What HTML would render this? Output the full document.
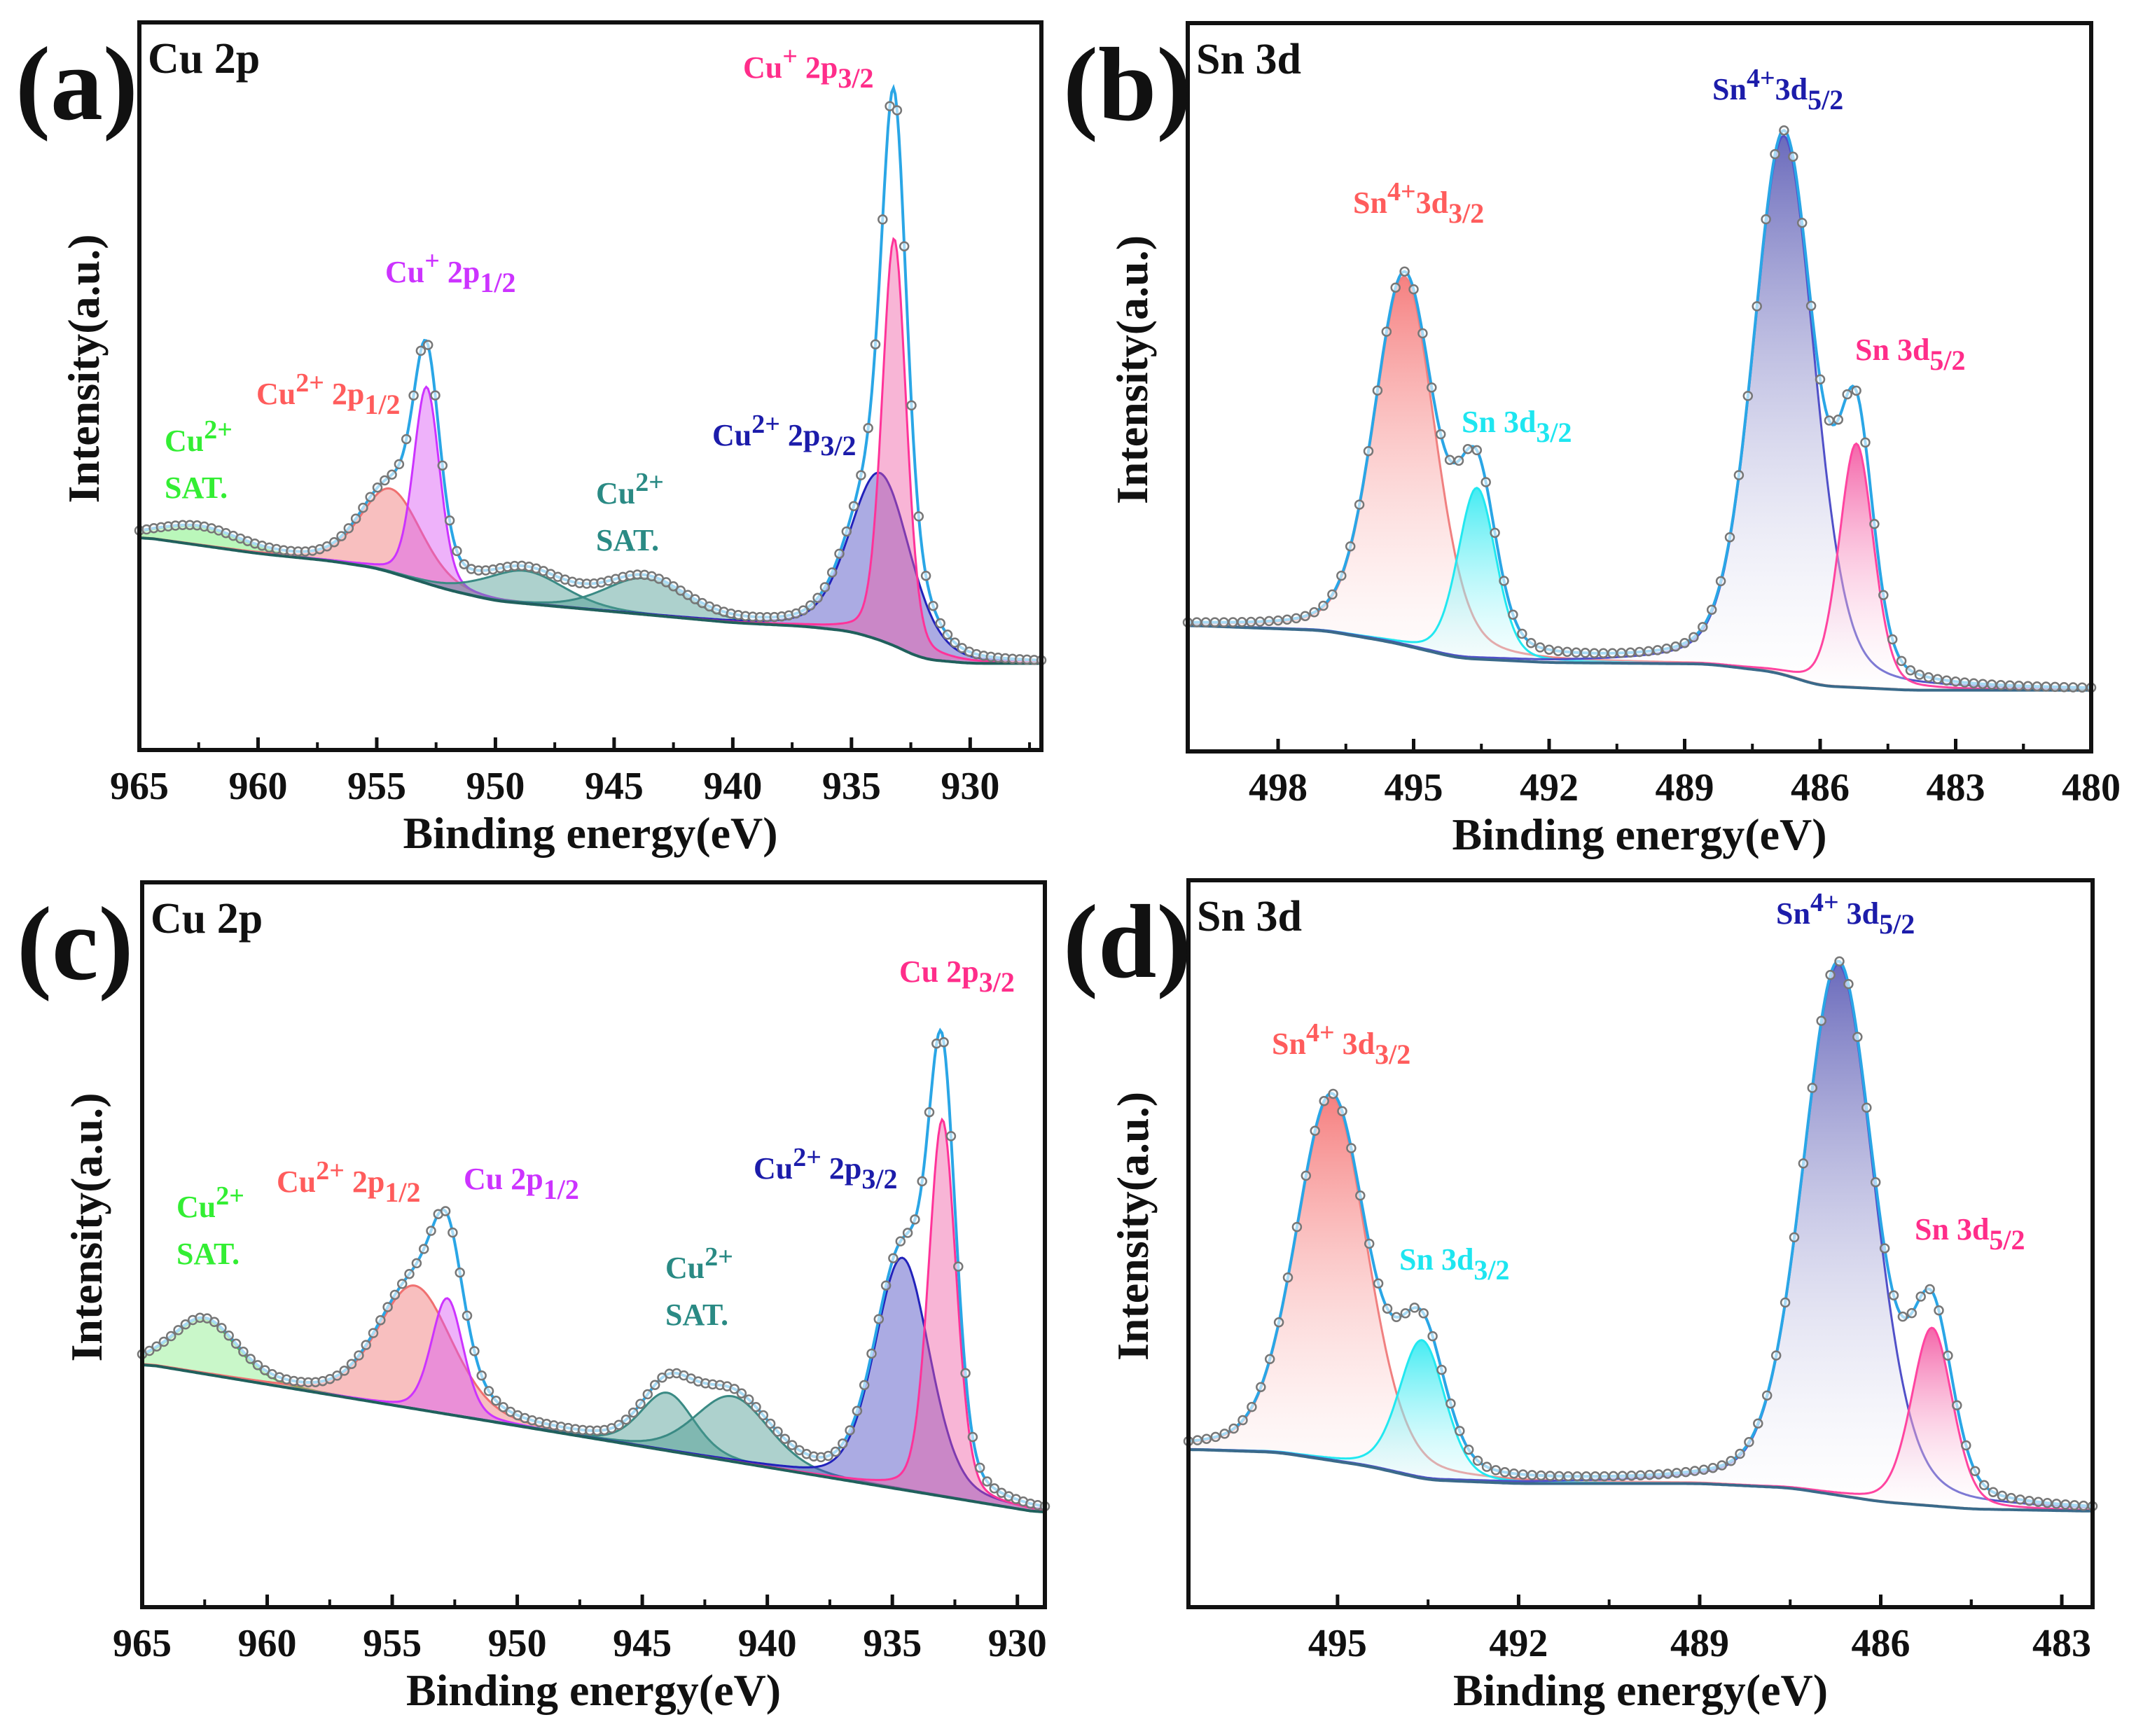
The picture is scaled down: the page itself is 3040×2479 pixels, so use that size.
<!DOCTYPE html>
<html><head><meta charset="utf-8">
<style>
html,body{margin:0;padding:0;background:#fff;}
svg{display:block;}
text{font-family:"Liberation Serif",serif;}
</style></head>
<body>
<svg id="fig" xmlns="http://www.w3.org/2000/svg" width="3040" height="2479" viewBox="0 0 3040 2479">
<defs>
<linearGradient id="gRed" x1="0" y1="0" x2="0" y2="1"><stop offset="0" stop-color="#f46a6a" stop-opacity="0.85"/><stop offset="1" stop-color="#fff" stop-opacity="0.2"/></linearGradient>
<linearGradient id="gCyan" x1="0" y1="0" x2="0" y2="1"><stop offset="0" stop-color="#22e8f0" stop-opacity="0.85"/><stop offset="1" stop-color="#fff" stop-opacity="0.2"/></linearGradient>
<linearGradient id="gBlue" x1="0" y1="0" x2="0" y2="1"><stop offset="0" stop-color="#5a5ab4" stop-opacity="0.9"/><stop offset="1" stop-color="#fff" stop-opacity="0.2"/></linearGradient>
<linearGradient id="gPink" x1="0" y1="0" x2="0" y2="1"><stop offset="0" stop-color="#f24a9a" stop-opacity="0.85"/><stop offset="1" stop-color="#fff" stop-opacity="0.2"/></linearGradient>
</defs>
</svg>
<script>
// ---------- Panel (a) Cu 2p ----------
const aBgEnergy = [965, 960, 957, 955, 952, 950, 945, 940, 937, 935, 933.5, 932, 930, 927];
const aBgInt    = [29.3, 27, 26, 25, 22, 20.5, 19, 17.5, 17, 16.3, 14.8, 12.5, 11.9, 11.9];
const aPeakNames   = ['cu2-sat-1', 'cu2-2p12', 'cu1-2p12', 'cu2-sat-2', 'cu2-sat-3', 'cu2-2p32', 'cu1-2p32'];
const aPeakCenter  = [962.5, 954.4, 952.9, 948.8, 943.7, 933.8, 933.2];
const aPeakHeight  = [2.5, 11.5, 27, 4.5, 5, 23, 56];
const aPeakFwhm    = [4, 3, 1.3, 4, 4, 3, 1.2];
// ---------- Panel (b) Sn 3d ----------
const bBgEnergy = [500, 497, 495.5, 494, 492, 488.5, 487, 486, 484, 480];
const bBgInt    = [17.3, 16.6, 15, 12.8, 12.2, 12, 10.9, 9, 8.4, 8.4];
const bPeakNames  = ['sn4-3d32', 'sn-3d32', 'sn4-3d52', 'sn-3d52'];
const bPeakCenter = [495.2, 493.6, 486.8, 485.2];
const bPeakHeight = [50.6, 23.5, 74, 33.5];
const bPeakFwhm   = [1.6, 1.0, 1.6, 0.9];
// ---------- Panel (c) Cu 2p ----------
const cBgEnergy = [965, 929];
const cBgInt    = [33.6, 13];
const cPeakNames  = ['cu2-sat-1', 'cu2-2p12', 'cu-2p12', 'cu2-sat-2', 'cu2-sat-3', 'cu2-2p32', 'cu-2p32'];
const cPeakCenter = [962.5, 954.1, 952.8, 944.0, 941.4, 934.6, 933.0];
const cPeakHeight = [7.5, 17, 16, 8, 9, 32, 52];
const cPeakFwhm   = [3, 3.5, 1.5, 2.5, 3.5, 2.6, 1.3];
// ---------- Panel (d) Sn 3d ----------
const dBgEnergy = [497.47, 496, 494.5, 493.5, 492, 489, 487.5, 486, 484.5, 482.49];
const dBgInt    = [21.7, 21.3, 19.4, 17.5, 17, 17, 16.4, 14.5, 13.5, 13.2];
const dPeakNames  = ['sn4-3d32', 'sn-3d32', 'sn4-3d52', 'sn-3d52'];
const dPeakCenter = [495.1, 493.6, 486.7, 485.15];
const dPeakHeight = [50, 19, 73, 24.5];
const dPeakFwhm   = [1.4, 0.9, 1.4, 0.8];
// ticks
const aTicks = [965, 960, 955, 950, 945, 940, 935, 930];
const bTicks = [498, 495, 492, 489, 486, 483, 480];
const cTicks = [965, 960, 955, 950, 945, 940, 935, 930];
const dTicks = [495, 492, 489, 486, 483];

const NS = 'http://www.w3.org/2000/svg';
const svg = document.getElementById('fig');
function mk(tag, attrs, parent){const e=document.createElementNS(NS,tag);for(const k in attrs)e.setAttribute(k,attrs[k]);(parent||svg).appendChild(e);return e;}
function interp(xs, ys, x){
  for(let i=0;i<xs.length-1;i++){
    const a=xs[i],b=xs[i+1];
    if((x<=a&&x>=b)||(x>=a&&x<=b)){const t=(x-a)/(b-a);return ys[i]+(ys[i+1]-ys[i])*t;}
  }
  return Math.abs(x-xs[0])<Math.abs(x-xs[xs.length-1])?ys[0]:ys[ys.length-1];
}
function pv(x,c,h,w){const d=(x-c)/w;return h*(0.75*Math.exp(-4*Math.LN2*d*d)+0.25/(1+4*d*d));}

function panel(cfg){
  const g=mk('g',{});
  
  
  const L=cfg.L,R=cfg.R,T=cfg.T,B=cfg.B;
  const sx=e=>L+(cfg.e0-e)/(cfg.e0-cfg.e1)*(R-L);
  const sy=v=>B-v/100*(B-T);
  const N=500, E=[];
  for(let i=0;i<=N;i++)E.push(cfg.e0+(cfg.e1-cfg.e0)*i/N);
  const raw=E.map(e=>interp(cfg.bgE,cfg.bgI,e));
  // light smoothing of the piecewise-linear background
  const bg=raw.map((v,i)=>{let s=0,n=0;for(let j=i-8;j<=i+8;j++){if(j>=0&&j<=N){s+=raw[j];n++;}}return s/n;});
  const env=bg.slice();
  cfg.centers.forEach((c,k)=>{
    const vals=E.map(e=>pv(e,c,cfg.heights[k],cfg.fwhm[k]));
    vals.forEach((v,i)=>env[i]+=v);
    let top='',bot='';
    E.forEach((e,i)=>{top+=(i?'L':'M')+sx(e).toFixed(1)+','+sy(bg[i]+vals[i]).toFixed(1);});
    for(let i=N;i>=0;i--)bot+='L'+sx(E[i]).toFixed(1)+','+sy(bg[i]).toFixed(1);
    const f=mk('path',{d:top+bot+'Z',fill:cfg.fills[k],'fill-opacity':cfg.fillOp,stroke:'none'},g);
    
    
    const l=mk('path',{d:top,fill:'none',stroke:cfg.strokes[k],'stroke-width':3},g);
    
    
  });
  let bd='';E.forEach((e,i)=>{bd+=(i?'L':'M')+sx(e).toFixed(1)+','+sy(bg[i]).toFixed(1);});
  const bl=mk('path',{d:bd,fill:'none',stroke:cfg.bgColor,'stroke-width':4},g);
  
  
  let ed='';E.forEach((e,i)=>{ed+=(i?'L':'M')+sx(e).toFixed(1)+','+sy(env[i]).toFixed(1);});
  const el=mk('path',{d:ed,fill:'none',stroke:'#2aa6e6','stroke-width':4},g);
  
  
  for(let i=0;i<=N;i+=cfg.ptStep){
    const c=mk('circle',{cx:sx(E[i]).toFixed(1),cy:sy(env[i]).toFixed(1),r:6,fill:'#fff','fill-opacity':0.6,stroke:'#777','stroke-width':2.5},g);
    
    
  }
  const fr=mk('rect',{x:L,y:T,width:R-L,height:B-T,fill:'none',stroke:'#111','stroke-width':6},g);
  
  
  cfg.ticks.forEach(t=>{
    const x=sx(t);
    const tk=mk('line',{x1:x,y1:B,x2:x,y2:B-18,stroke:'#111','stroke-width':5},g);
    
    
    const tl=mk('text',{x:x,y:B+70,'text-anchor':'middle','font-size':56,'font-weight':'bold',fill:'#111'},g);
    tl.textContent=t;
    
    
    [t+cfg.minor, t===cfg.ticks[cfg.ticks.length-1]?t-cfg.minor:null].forEach(m=>{
      if(m!==null&&(m-cfg.e0)*(m-cfg.e1)<0){
        const mt=mk('line',{x1:sx(m),y1:B,x2:sx(m),y2:B-11,stroke:'#111','stroke-width':4},g);
        
        
      }
    });
  });
  const xt=mk('text',{x:(L+R)/2,y:B+140,'text-anchor':'middle','font-size':64,'font-weight':'bold',fill:'#111'},g);
  xt.textContent='Binding energy(eV)';
  
  
  const cy=(T+B)/2-25, cx=L-58;
  const yt=mk('text',{x:cx,y:cy,'text-anchor':'middle','font-size':64,'font-weight':'bold',fill:'#111',transform:'rotate(-90 '+cx+' '+cy+')'},g);
  yt.textContent='Intensity(a.u.)';
  
  
  const pl=mk('text',{x:cfg.lx,y:T+138,'font-size':150,'font-weight':'bold',fill:'#111'},g);
  pl.textContent=cfg.letter;
  
  
  const tt=mk('text',{x:L+12,y:T+72,'font-size':62,'font-weight':'bold',fill:'#111'},g);
  tt.textContent=cfg.title;
  
  
  cfg.labels.forEach(lb=>{
    const t=mk('text',{x:lb[0],y:lb[1],'font-size':44,'font-weight':'bold',fill:lb[3]},g);
    
    
    lb[2].forEach(p=>{
      const s=mk('tspan',{},t);
      if(p[1]==='sup'){s.setAttribute('dy','-18');s.setAttribute('font-size','38');}
      else if(p[1]==='sub'){s.setAttribute('dy','14');s.setAttribute('font-size','40');}
      else if(p[1]==='base-after-sup'){s.setAttribute('dy','18');}
      s.textContent=p[0];
    });
  });
}
const PINK='#ff2d8a',PURP='#cc33ff',SAL='#ff5c5c',GRN='#33ee33',TEAL='#2a8a84',BLUE='#1c1caa',CYAN='#1ee6f0';
panel({name:'panel-a',letter:'(a)',title:'Cu 2p',lx:22,L:199,R:1487,T:32,B:1071,e0:965,e1:927,
  bgE:aBgEnergy,bgI:aBgInt,centers:aPeakCenter,heights:aPeakHeight,fwhm:aPeakFwhm,peakNames:aPeakNames,
  fills:['#66ee66','#f07070','#d955f5','#4a9a90','#4a9a90','#4545c0','#f05aa5'],
  strokes:['#44cc44','#f07070','#cc33ff','#3a8a84','#3a8a84','#2222bb','#ff3399'],fillOp:0.45,
  bgColor:'#20605c',ticks:aTicks,minor:-2.5,ptStep:4,
  labels:[[1061,111,[['Cu'],['+','sup'],[' 2p','base-after-sup'],['3/2','sub']],PINK],
    [550,403,[['Cu'],['+','sup'],[' 2p','base-after-sup'],['1/2','sub']],PURP],
    [366,577,[['Cu'],['2+','sup'],[' 2p','base-after-sup'],['1/2','sub']],SAL],
    [235,644,[['Cu'],['2+','sup']],GRN],[235,711,[['SAT.']],GRN],
    [851,719,[['Cu'],['2+','sup']],TEAL],[851,786,[['SAT.']],TEAL],
    [1017,636,[['Cu'],['2+','sup'],[' 2p','base-after-sup'],['3/2','sub']],BLUE]]});
panel({name:'panel-b',letter:'(b)',title:'Sn 3d',lx:1518,L:1696,R:2986,T:33,B:1073,e0:500,e1:480,
  bgE:bBgEnergy,bgI:bBgInt,centers:bPeakCenter,heights:bPeakHeight,fwhm:bPeakFwhm,peakNames:bPeakNames,
  fills:['url(#gRed)','url(#gCyan)','url(#gBlue)','url(#gPink)'],
  strokes:['#f08080','#22e8f0','#5050c8','#ff44a0'],fillOp:1,
  bgColor:'#3a6a8a',ticks:bTicks,minor:-1.5,ptStep:5,
  labels:[[2445,142,[['Sn'],['4+','sup'],['3d','base-after-sup'],['5/2','sub']],BLUE],
    [1932,304,[['Sn'],['4+','sup'],['3d','base-after-sup'],['3/2','sub']],SAL],
    [2087,617,[['Sn 3d'],['3/2','sub']],CYAN],
    [2649,514,[['Sn 3d'],['5/2','sub']],PINK]]});
panel({name:'panel-c',letter:'(c)',title:'Cu 2p',lx:24,L:203,R:1492,T:1260,B:2295,e0:965,e1:928.9,
  bgE:cBgEnergy,bgI:cBgInt,centers:cPeakCenter,heights:cPeakHeight,fwhm:cPeakFwhm,peakNames:cPeakNames,
  fills:['#88ee88','#f07070','#d955f5','#4a9a90','#4a9a90','#4545c0','#f05aa5'],
  strokes:['#44cc44','#f07070','#cc33ff','#3a8a84','#3a8a84','#2222bb','#ff3399'],fillOp:0.45,
  bgColor:'#20605c',ticks:cTicks,minor:-2.5,ptStep:4,
  labels:[[1284,1402,[['Cu 2p'],['3/2','sub']],PINK],
    [1076,1683,[['Cu'],['2+','sup'],[' 2p','base-after-sup'],['3/2','sub']],BLUE],
    [662,1698,[['Cu 2p'],['1/2','sub']],PURP],
    [395,1702,[['Cu'],['2+','sup'],[' 2p','base-after-sup'],['1/2','sub']],SAL],
    [252,1738,[['Cu'],['2+','sup']],GRN],[252,1805,[['SAT.']],GRN],
    [950,1825,[['Cu'],['2+','sup']],TEAL],[950,1892,[['SAT.']],TEAL]]});
panel({name:'panel-d',letter:'(d)',title:'Sn 3d',lx:1518,L:1697,R:2988,T:1257,B:2295,e0:497.47,e1:482.49,
  bgE:dBgEnergy,bgI:dBgInt,centers:dPeakCenter,heights:dPeakHeight,fwhm:dPeakFwhm,peakNames:dPeakNames,
  fills:['url(#gRed)','url(#gCyan)','url(#gBlue)','url(#gPink)'],
  strokes:['#f08080','#22e8f0','#5050c8','#ff44a0'],fillOp:1,
  bgColor:'#3a6a8a',ticks:dTicks,minor:-1.5,ptStep:5,
  labels:[[2536,1319,[['Sn'],['4+','sup'],[' 3d','base-after-sup'],['5/2','sub']],BLUE],
    [1816,1505,[['Sn'],['4+','sup'],[' 3d','base-after-sup'],['3/2','sub']],SAL],
    [1998,1813,[['Sn 3d'],['3/2','sub']],CYAN],
    [2734,1770,[['Sn 3d'],['5/2','sub']],PINK]]});
</script>
</body></html>
